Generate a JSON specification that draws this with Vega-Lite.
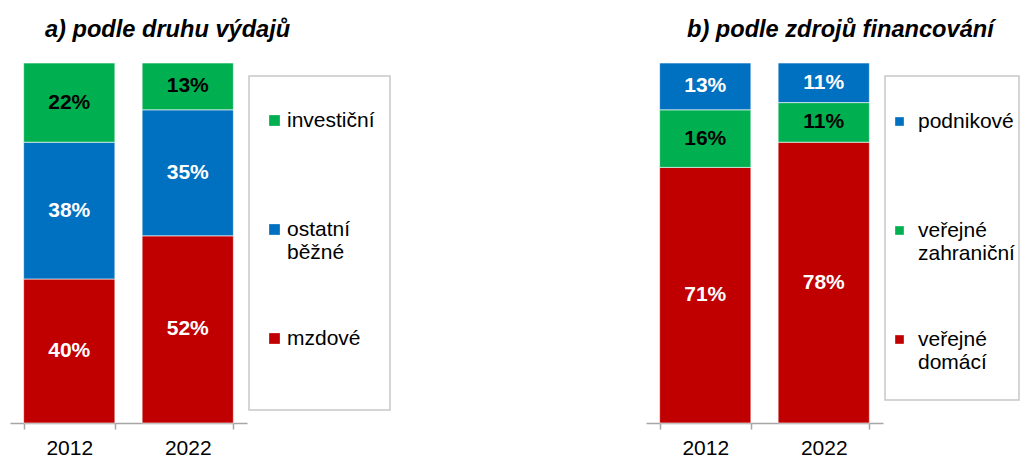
{
  "$schema": "https://vega.github.io/schema/vega-lite/v6.json",
  "padding": {"left": 10, "top": 18, "right": 0, "bottom": 0},
  "bounds": "flush",
  "spacing": 399,
  "config": {
    "font": "Liberation Sans",
    "view": {"stroke": null},
    "axisX": {"title": null, "labelAngle": 0, "labelFontSize": 21, "labelColor": "black", "labelFont": "Liberation Sans", "domainColor": "#a6a6a6", "domainWidth": 1.5, "tickColor": "#a6a6a6", "tickWidth": 1.5, "tickSize": 6, "tickBand": "extent", "labelPadding": 8, "grid": false},
    "title": {"font": "Liberation Sans", "fontSize": 23.6, "fontWeight": "bold", "fontStyle": "italic", "anchor": "start", "color": "black", "offset": 21},
    "legend": {"orient": "none", "legendX": 239, "legendY": 13, "strokeColor": "#c8c8c8", "strokeWidth": 1.5, "symbolType": "square", "symbolStrokeWidth": 0, "labelFontSize": 21, "labelFont": "Liberation Sans", "labelColor": "black", "labelLimit": 300, "rowPadding": 64, "titleFontSize": 10}
  },
  "hconcat": [
    {
      "width": 237, "height": 360,
      "title": {"text": "a) podle druhu výdajů", "dx": 35},
      "data": {"values": [
        {"rok": "2012", "druh": "mzdové", "poradi": 1, "podil": 0.40},
        {"rok": "2012", "druh": "ostatní běžné", "poradi": 2, "podil": 0.38},
        {"rok": "2012", "druh": "investiční", "poradi": 3, "podil": 0.22},
        {"rok": "2022", "druh": "mzdové", "poradi": 1, "podil": 0.52},
        {"rok": "2022", "druh": "ostatní běžné", "poradi": 2, "podil": 0.35},
        {"rok": "2022", "druh": "investiční", "poradi": 3, "podil": 0.13}
      ]},
      "encoding": {
        "x": {"field": "rok", "type": "nominal", "scale": {"paddingInner": 0.23, "paddingOuter": 0.115}}
      },
      "layer": [
        {
          "mark": {"type": "bar", "stroke": "white", "strokeWidth": 0.6},
          "encoding": {
            "y": {"field": "podil", "type": "quantitative", "stack": "zero", "scale": {"domain": [0, 1]}, "axis": null},
            "order": {"field": "poradi", "type": "ordinal", "sort": "ascending"},
            "color": {"field": "druh", "type": "nominal", "sort": ["investiční", "ostatní běžné", "mzdové"],
              "scale": {"domain": ["investiční", "ostatní běžné", "mzdové"], "range": ["#00B050", "#0070C0", "#C00000"]},
              "legend": {"title": " ", "titlePadding": 9, "symbolSize": 115, "padding": 15, "labelOffset": 2,
                "labelExpr": "datum.label == 'mzdové' ? ['mzdové', '', ''] : datum.label == 'investiční' ? ['investiční', ''] : split(datum.label, ' ')"}}
          }
        },
        {
          "mark": {"type": "text", "fontSize": 21, "fontWeight": "bold"},
          "encoding": {
            "y": {"field": "podil", "type": "quantitative", "stack": "zero", "bandPosition": 0.5},
            "order": {"field": "poradi", "type": "ordinal", "sort": "ascending"},
            "text": {"field": "podil", "type": "quantitative", "format": ".0%"},
            "color": {"field": "druh", "type": "nominal", "sort": ["investiční", "ostatní běžné", "mzdové"],
              "scale": {"domain": ["investiční", "ostatní běžné", "mzdové"], "range": ["black", "white", "white"]},
              "legend": null}
          }
        }
      ],
      "resolve": {"scale": {"color": "independent"}}
    },
    {
      "width": 237, "height": 360,
      "title": {"text": "b) podle zdrojů financování", "dx": 41},
      "data": {"values": [
        {"rok": "2012", "zdroj": "veřejné domácí", "poradi": 1, "podil": 0.71},
        {"rok": "2012", "zdroj": "veřejné zahraniční", "poradi": 2, "podil": 0.16},
        {"rok": "2012", "zdroj": "podnikové", "poradi": 3, "podil": 0.13},
        {"rok": "2022", "zdroj": "veřejné domácí", "poradi": 1, "podil": 0.78},
        {"rok": "2022", "zdroj": "veřejné zahraniční", "poradi": 2, "podil": 0.11},
        {"rok": "2022", "zdroj": "podnikové", "poradi": 3, "podil": 0.11}
      ]},
      "encoding": {
        "x": {"field": "rok", "type": "nominal", "scale": {"paddingInner": 0.23, "paddingOuter": 0.115}}
      },
      "layer": [
        {
          "mark": {"type": "bar", "stroke": "white", "strokeWidth": 0.6},
          "encoding": {
            "y": {"field": "podil", "type": "quantitative", "stack": "zero", "scale": {"domain": [0, 1]}, "axis": null},
            "order": {"field": "poradi", "type": "ordinal", "sort": "ascending"},
            "color": {"field": "zdroj", "type": "nominal", "sort": ["podnikové", "veřejné zahraniční", "veřejné domácí"],
              "scale": {"domain": ["podnikové", "veřejné zahraniční", "veřejné domácí"], "range": ["#0070C0", "#00B050", "#C00000"]},
              "legend": {"title": " ", "titlePadding": 21, "symbolSize": 75, "padding": 4, "labelOffset": 8,
                "labelExpr": "datum.label == 'podnikové' ? ['podnikové', ''] : datum.label == 'veřejné domácí' ? ['veřejné', 'domácí', ''] : split(datum.label, ' ')"}}
          }
        },
        {
          "mark": {"type": "text", "fontSize": 21, "fontWeight": "bold"},
          "encoding": {
            "y": {"field": "podil", "type": "quantitative", "stack": "zero", "bandPosition": 0.5},
            "order": {"field": "poradi", "type": "ordinal", "sort": "ascending"},
            "text": {"field": "podil", "type": "quantitative", "format": ".0%"},
            "color": {"field": "zdroj", "type": "nominal", "sort": ["podnikové", "veřejné zahraniční", "veřejné domácí"],
              "scale": {"domain": ["podnikové", "veřejné zahraniční", "veřejné domácí"], "range": ["white", "black", "white"]},
              "legend": null}
          }
        }
      ],
      "resolve": {"scale": {"color": "independent"}}
    }
  ]
}
